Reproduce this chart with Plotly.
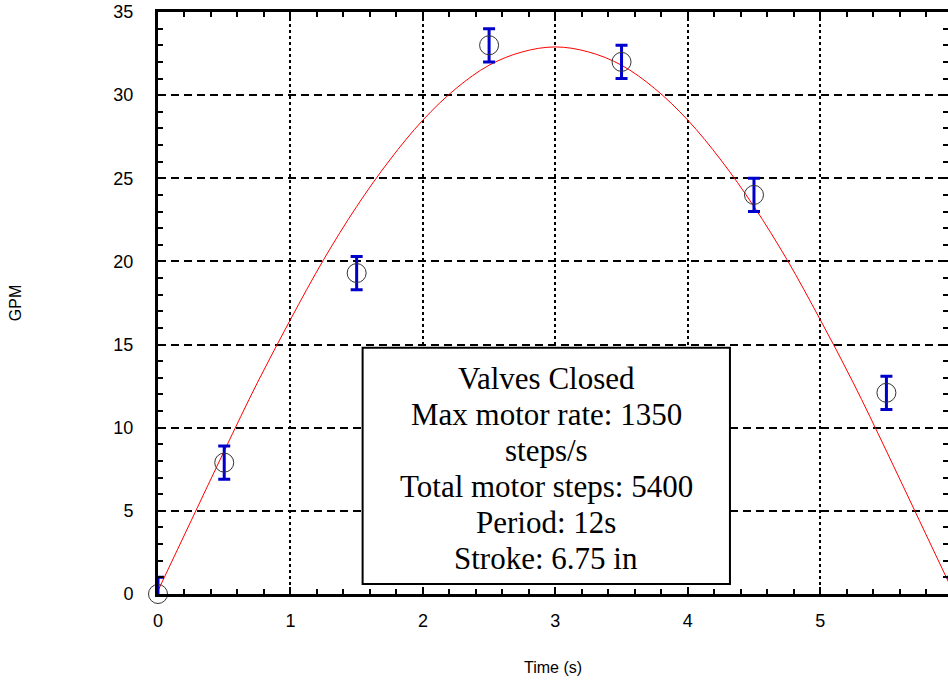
import plotly.graph_objects as go

# measured data points (GPM vs time)
t_meas = [0, 0.5, 1.5, 2.5, 3.5, 4.5, 5.5, 6]
gpm_meas = [0.0, 7.9, 19.3, 33.0, 32.0, 24.0, 12.1, 0.0]
gpm_err = [1.0, 1.0, 1.0, 1.0, 1.0, 1.0, 1.0, 1.0]

# fitted curve, values
t_fit = [0, 0.25, 0.5, 0.75, 1, 1.25, 1.5, 1.75, 2, 2.25, 2.5, 2.75, 3,
         3.25, 3.5, 3.75, 4, 4.25, 4.5, 4.75, 5, 5.25, 5.5, 5.75, 6]
gpm_fit = [0.2, 4.4, 8.6, 12.7, 16.5, 20.1, 23.3, 26.1, 28.5, 30.4, 31.8, 32.6, 32.9,
           32.6, 31.8, 30.4, 28.5, 26.1, 23.3, 20.1, 16.5, 12.7, 8.6, 4.4, 0.2]

x_ticks = [0, 1, 2, 3, 4, 5]
y_ticks = [0, 5, 10, 15, 20, 25, 30, 35]

info_lines = ["Valves Closed", "Max motor rate: 1350", "steps/s",
              "Total motor steps: 5400", "Period: 12s", "Stroke: 6.75 in"]

fig = go.Figure()

fig.add_trace(go.Scatter(
    x=t_fit, y=gpm_fit, mode="lines", line=dict(color="#ff0000", width=1, shape="spline"),
    hoverinfo="skip", showlegend=False))

fig.add_trace(go.Scatter(
    x=t_meas, y=gpm_meas, mode="markers",
    marker=dict(size=1, color="rgba(0,0,0,0)"),
    error_y=dict(type="data", array=gpm_err, color="#0000cc", thickness=3, width=6),
    showlegend=False, hoverinfo="skip"))

fig.add_trace(go.Scatter(
    x=t_meas, y=gpm_meas, mode="markers", cliponaxis=False,
    marker=dict(symbol="circle-open", size=19, color="#333333", line=dict(width=1)),
    showlegend=False))

# invisible trace to carry the right-hand tick axis
fig.add_trace(go.Scatter(
    x=t_meas, y=gpm_meas, mode="markers", yaxis="y2",
    marker=dict(opacity=0), showlegend=False, hoverinfo="skip"))

tickfont = dict(family="Arial, Liberation Sans", size=18, color="black")
titlefont = dict(family="Arial, Liberation Sans", size=16, color="black")

# info box: frame + one annotation per line
box_x0, box_x1, box_y0, box_y1 = 0.259, 0.724, 0.017, 0.423
line_top, line_pitch = 0.371, 0.0619
annotations = []
for i, txt in enumerate(info_lines):
    annotations.append(dict(
        text=txt, xref="paper", yref="paper", x=(box_x0 + box_x1) / 2,
        y=line_top - i * line_pitch, xanchor="center", yanchor="middle",
        showarrow=False,
        font=dict(family="Times New Roman, Liberation Serif", size=31, color="black")))

fig.update_layout(
    width=948, height=683,
    margin=dict(l=158, r=0, t=12, b=89),
    plot_bgcolor="white", paper_bgcolor="white",
    xaxis=dict(
        range=[0, 5.965], tickvals=x_ticks, ticks="inside", ticklen=7, tickwidth=2,
        tickcolor="black", showline=True, linewidth=3, linecolor="black", mirror="ticks",
        showgrid=True, gridcolor="black", gridwidth=2, griddash="3px,3px",
        zeroline=False, tickfont=tickfont, ticklabelstandoff=8,
        minor=dict(dtick=0.2, ticks="inside", ticklen=5, tickwidth=2, tickcolor="black",
                   showgrid=False),
        title=dict(text="Time (s)", font=titlefont, standoff=33),
    ),
    yaxis=dict(
        range=[0, 35], tickvals=y_ticks, ticks="inside", ticklen=7, tickwidth=2,
        tickcolor="black", showline=True, linewidth=3, linecolor="black", mirror=False,
        showgrid=True, gridcolor="black", gridwidth=2, griddash="8px,5px",
        zeroline=False, tickfont=tickfont, ticklabelstandoff=18,
        minor=dict(dtick=1, ticks="inside", ticklen=5, tickwidth=2, tickcolor="black",
                   showgrid=False),
        title=dict(text="GPM", font=titlefont, standoff=88),
    ),
    yaxis2=dict(
        range=[0, 35], overlaying="y", side="right", tickvals=y_ticks, ticks="inside",
        ticklen=7, tickwidth=2, tickcolor="black", showline=False, showgrid=False,
        zeroline=False, showticklabels=False,
        minor=dict(dtick=1, ticks="inside", ticklen=5, tickwidth=2, tickcolor="black"),
    ),
    shapes=[dict(type="rect", xref="paper", yref="paper", x0=box_x0, x1=box_x1,
                 y0=box_y0, y1=box_y1, fillcolor="white",
                 line=dict(color="black", width=2), layer="above")],
    annotations=annotations,
)

fig.write_html("out.html",
               config={"displayModeBar": False},
               post_script="document.body.style.margin='0';"
                           "document.body.style.overflow='hidden';")
